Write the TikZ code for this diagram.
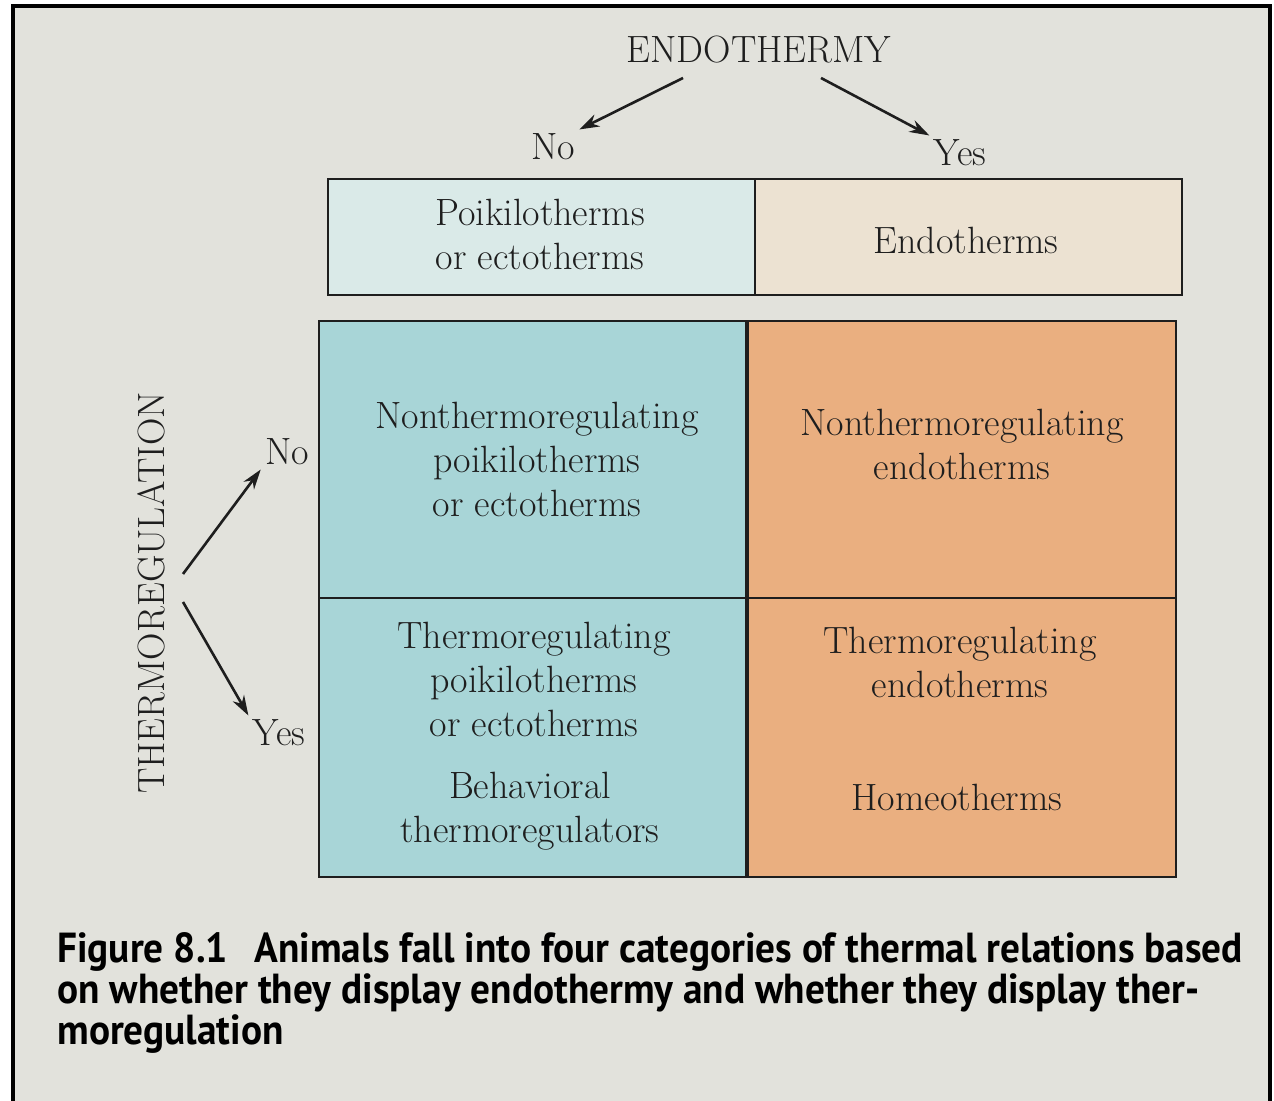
\documentclass[tikz,border=0pt]{standalone}
\usepackage{fontspec}
\newfontfamily\captionfont{PT Sans}[FakeStretch=0.935]
\usetikzlibrary{arrows.meta, positioning}

\definecolor{paper}{RGB}{226,226,220}
\definecolor{palecyan}{RGB}{218,234,232}
\definecolor{palebeige}{RGB}{236,226,210}
\definecolor{cellblue}{RGB}{168,213,215}
\definecolor{cellorange}{RGB}{234,175,128}
\definecolor{ink}{RGB}{30,30,30}

\begin{document}
\begin{tikzpicture}[
    x=0.5pt, y=-0.5pt,
    cell/.style = {draw=ink, line width=1.1pt, rectangle, inner sep=0, anchor=north west, minimum width=213.5pt},
    txt/.style = {font=\fontsize{19}{22}\selectfont, align=center, text=ink, inner sep=2pt},
    line/.style = {-{Stealth[length=10pt, width=6.5pt]}, line width=1.3pt, ink},
    frame/.style = {line width=1.6pt, black}
]

    % Page
    \useasboundingbox (0,0) rectangle (1274,1101);
    \fill[white] (0,0) rectangle (1274,1101);
    \fill[paper] (13,6) rectangle (1270,1101);
    \draw[frame] (13,1105) -- (13,6) -- (1270,6) -- (1270,1105);

    % Cells
    \node [cell, fill=palecyan, minimum height=58pt] (topL) at (327,178) {};
    \node [cell, fill=palebeige, minimum height=58pt] (topR) at (754,178) {};
    \node [cell, fill=cellblue, minimum height=138.5pt] (noL) at (318,320) {};
    \node [cell, fill=cellorange, minimum height=138.5pt, minimum width=214pt] (noR) at (747,320) {};
    \node [cell, fill=cellblue, minimum height=139.5pt] (yesL) at (318,597) {};
    \node [cell, fill=cellorange, minimum height=139.5pt, minimum width=214pt] (yesR) at (747,597) {};

    % Cell texts
    \node [txt] (poik) at (540,234) {Poikilotherms\\or ectotherms};
    \node [txt] (endo) at (966,240) {Endotherms};
    \node [txt] (nonpoik) at (537,459) {Nonthermoregulating\\poikilotherms\\or ectotherms};
    \node [txt] (nonendo) at (962,444) {Nonthermoregulating\\endotherms};
    \node [txt] (thpoik) at (534,679) {Thermoregulating\\poikilotherms\\or ectotherms};
    \node [txt] (behav) at (530,811) {Behavioral\\thermoregulators};
    \node [txt] (thendo) at (960,662) {Thermoregulating\\endotherms};
    \node [txt] (homeo) at (957,797) {Homeotherms};

    % Axes
    \node [txt] (endothermy) at (759,50) {ENDOTHERMY};
    \node [txt] (eno) at (553,147) {No};
    \node [txt] (eyes) at (960,153) {Yes};
    \node [txt, rotate=90] (thermo) at (151,593) {THERMOREGULATION};
    \node [txt] (tno) at (287,452) {No};
    \node [txt] (tyes) at (279,733) {Yes};
    \coordinate (fork) at (183,588);

    % Edges
    \draw [line] ([xshift=-38pt, yshift=-5pt]endothermy.south) -- (eno.north east);
    \draw [line] ([xshift=31pt, yshift=-5pt]endothermy.south) -- (eyes.north west);
    \draw [line] ([yshift=7pt]fork) -- (tno.south west);
    \draw [line] ([yshift=-7pt]fork) -- (tyes.north west);

    % Caption
    \node [anchor=north west, inner sep=0, align=left, text=black,
           font=\captionfont\bfseries\fontsize{21}{20.5}\selectfont] (caption) at (57,932)
        {Figure 8.1\hspace{0.4em} Animals fall into four categories of thermal relations based\\
         on whether they display endothermy and whether they display ther-\\
         moregulation};

\end{tikzpicture}
\end{document}
